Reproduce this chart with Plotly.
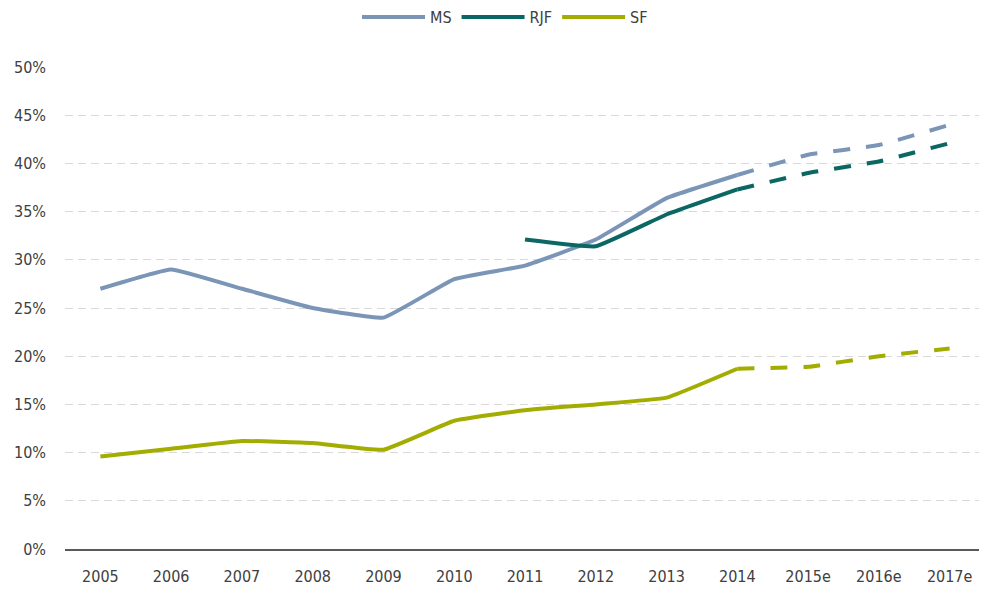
import plotly.graph_objects as go

years = ["2005", "2006", "2007", "2008", "2009", "2010", "2011", "2012", "2013",
         "2014", "2015e", "2016e", "2017e"]
ms = [27.0, 29.0, 27.0, 25.0, 24.0, 28.0, 29.4, 32.1, 36.4, 38.8, 40.9, 41.9, 44.0]
rjf = [None, None, None, None, None, None, 32.1, 31.4, 34.7, 37.3, 39.0, 40.2, 42.1]
sf = [9.6, 10.4, 11.2, 11.0, 10.3, 13.3, 14.4, 15.0, 15.7, 18.7, 18.9, 20.0, 20.8]

names = ["MS", "RJF", "SF"]
colors = ["#7b95b7", "#0a6763", "#a3ad00"]
series = [ms, rjf, sf]
split = 9  # index of 2014: actuals to here, estimates after

fig = go.Figure()
for name, color, vals in zip(names, colors, series):
    xs = [y for y, v in zip(years[:split + 1], vals[:split + 1]) if v is not None]
    ys = [v for v in vals[:split + 1] if v is not None]
    fig.add_trace(go.Scatter(x=xs, y=ys, mode="lines", name=name,
                             line=dict(color=color, width=4, shape="spline", smoothing=0.3)))
for name, color, vals in zip(names, colors, series):
    fig.add_trace(go.Scatter(x=years[split:], y=vals[split:], mode="lines", name=name,
                             showlegend=False,
                             line=dict(color=color, width=4, dash="17px,16px",
                                       shape="spline", smoothing=0.3)))

font = "DejaVu Sans Condensed, Liberation Sans Narrow, Roboto, sans-serif"
fig.update_layout(
    width=979, height=582,
    margin=dict(l=57, r=2, t=59, b=41),
    paper_bgcolor="white", plot_bgcolor="white",
    font=dict(family=font, size=16, color="#404040"),
    legend=dict(orientation="h", xref="container", x=0.3565, xanchor="left",
                yref="container", y=0.9845, yanchor="middle",
                itemwidth=63, font=dict(size=16, color="#404040")),
    showlegend=True,
)
fig.update_xaxes(type="category", categoryorder="array", categoryarray=years,
                 range=[-0.5, 12.5], showgrid=False, showline=True,
                 linecolor="#595959", linewidth=1.5, ticks="", ticklabelstandoff=12)
fig.update_yaxes(range=[0, 50], tickvals=list(range(0, 51, 5)),
                 ticktext=[f"{v}%" for v in range(0, 51, 5)],
                 showgrid=True, gridcolor="#d9d9d9", griddash="8px,5px", gridwidth=1,
                 zeroline=False, showline=False, ticks="", ticklabelstandoff=18)

fig.write_html("out.html")
